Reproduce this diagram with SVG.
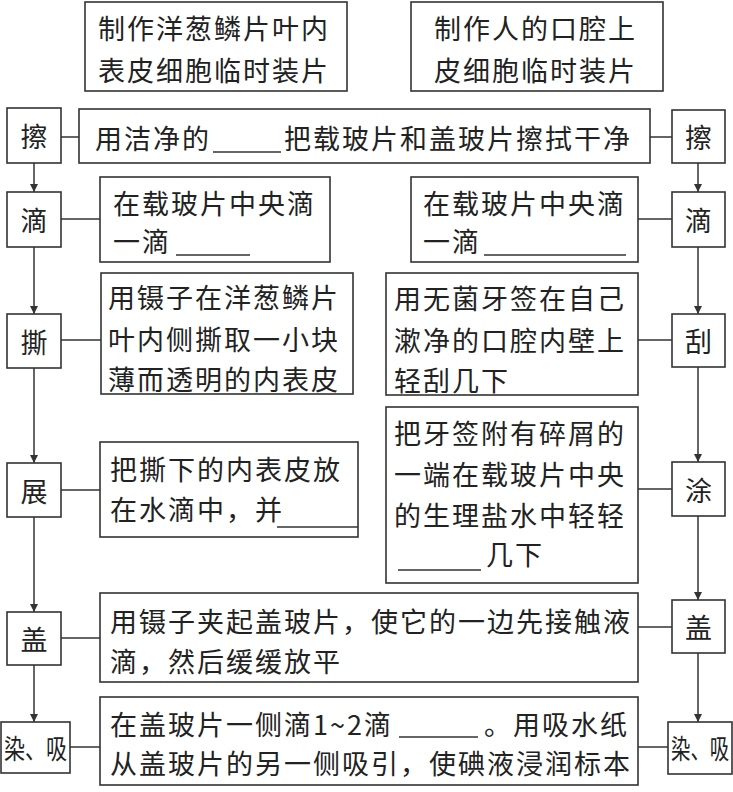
<svg xmlns="http://www.w3.org/2000/svg" width="733" height="792" viewBox="0 0 733 792">
<defs>
<marker id="ah" viewBox="0 0 8 10" refX="8" refY="5" markerWidth="8" markerHeight="10" markerUnits="userSpaceOnUse" orient="auto">
<path d="M0,1 L8,5 L0,9 Z" fill="#333"/>
</marker>
<style>
rect{fill:#fff;stroke:#333;stroke-width:1.6}
line{stroke:#333;stroke-width:1.5}
.a{marker-end:url(#ah)}
text{font-family:"Noto Sans CJK SC","Noto Sans",sans-serif;font-size:27px;fill:#222;dominant-baseline:central;letter-spacing:2px}
.c{text-anchor:middle;letter-spacing:0}
.u{stroke:#333;stroke-width:1.3}
</style>
</defs>
<rect width="733" height="792" style="fill:#fff;stroke:none"/>

<g id="connectors">
<line x1="61" y1="137" x2="79" y2="137"/>
<line x1="650" y1="137" x2="672" y2="137"/>
<line x1="61" y1="219" x2="100" y2="219"/>
<line x1="638" y1="219" x2="672" y2="219"/>
<line x1="61" y1="340" x2="101" y2="340"/>
<line x1="638" y1="340" x2="672" y2="340"/>
<line x1="61" y1="490" x2="100" y2="490"/>
<line x1="638" y1="489" x2="672" y2="489"/>
<line x1="61" y1="638" x2="100" y2="638"/>
<line x1="638" y1="627" x2="672" y2="627"/>
<line x1="70" y1="747" x2="100" y2="747"/>
<line x1="638" y1="747" x2="668" y2="747"/>
<line class="a" x1="34" y1="163" x2="34" y2="192"/>
<line class="a" x1="34" y1="247" x2="34" y2="314"/>
<line class="a" x1="34" y1="368" x2="34" y2="463"/>
<line class="a" x1="34" y1="517" x2="34" y2="612"/>
<line class="a" x1="34" y1="665" x2="34" y2="722"/>
<line class="a" x1="698" y1="163" x2="698" y2="192"/>
<line class="a" x1="698" y1="247" x2="698" y2="314"/>
<line class="a" x1="698" y1="367" x2="698" y2="462"/>
<line class="a" x1="698" y1="516" x2="698" y2="600"/>
<line class="a" x1="698" y1="653" x2="698" y2="722"/>
</g>

<g id="title-left">
<rect x="85" y="2" width="262" height="89"/>
<text x="98" y="27">制作洋葱鳞片叶内</text>
<text x="98" y="69">表皮细胞临时装片</text>
</g>
<g id="title-right">
<rect x="411" y="2" width="252" height="89"/>
<text x="434" y="27">制作人的口腔上</text>
<text x="434" y="69">皮细胞临时装片</text>
</g>

<g id="step-ca-left"><rect x="7" y="108" width="54" height="55"/><text class="c" x="34" y="135">擦</text></g>
<g id="step-ca-right"><rect x="672" y="110" width="53" height="53"/><text class="c" x="698.5" y="136">擦</text></g>
<g id="desc-ca">
<rect x="79" y="109" width="571" height="54"/>
<text x="95" y="137">用洁净的</text>
<line class="u" x1="213" y1="152" x2="281" y2="152"/>
<text x="284" y="137">把载玻片和盖玻片擦拭干净</text>
</g>

<g id="step-di-left"><rect x="7" y="192" width="54" height="55"/><text class="c" x="34" y="219">滴</text></g>
<g id="desc-di-left">
<rect x="100" y="177" width="230" height="85"/>
<text x="113" y="202">在载玻片中央滴</text>
<text x="113" y="240">一滴</text>
<line class="u" x1="176" y1="255" x2="250" y2="255"/>
</g>
<g id="step-di-right"><rect x="672" y="192" width="53" height="55"/><text class="c" x="698.5" y="219">滴</text></g>
<g id="desc-di-right">
<rect x="411" y="177" width="227" height="85"/>
<text x="423" y="202">在载玻片中央滴</text>
<text x="423" y="240">一滴</text>
<line class="u" x1="484" y1="255" x2="626" y2="255"/>
</g>

<g id="step-si"><rect x="7" y="314" width="54" height="54"/><text class="c" x="34" y="341">撕</text></g>
<g id="desc-si">
<rect x="101" y="273" width="252" height="121"/>
<text x="108" y="296">用镊子在洋葱鳞片</text>
<text x="108" y="338">叶内侧撕取一小块</text>
<text x="108" y="378">薄而透明的内表皮</text>
</g>
<g id="step-gua"><rect x="672" y="314" width="53" height="53"/><text class="c" x="698.5" y="340">刮</text></g>
<g id="desc-gua">
<rect x="386" y="273" width="252" height="122"/>
<text x="394" y="297">用无菌牙签在自己</text>
<text x="394" y="339">漱净的口腔内壁上</text>
<text x="394" y="379">轻刮几下</text>
</g>

<g id="step-zhan"><rect x="7" y="463" width="54" height="54"/><text class="c" x="34" y="490">展</text></g>
<g id="desc-zhan">
<rect x="100" y="442" width="258" height="95"/>
<text x="110" y="468">把撕下的内表皮放</text>
<text x="110" y="508">在水滴中，并</text>
<line class="u" x1="277" y1="527" x2="358" y2="527"/>
</g>
<g id="step-tu"><rect x="672" y="462" width="53" height="54"/><text class="c" x="698.5" y="489">涂</text></g>
<g id="desc-tu">
<rect x="386" y="407" width="252" height="176"/>
<text x="394" y="432">把牙签附有碎屑的</text>
<text x="394" y="473">一端在载玻片中央</text>
<text x="394" y="514">的生理盐水中轻轻</text>
<line class="u" x1="398" y1="570" x2="481" y2="570"/>
<text x="486" y="553">几下</text>
</g>

<g id="step-gai-left"><rect x="7" y="612" width="54" height="53"/><text class="c" x="34" y="638">盖</text></g>
<g id="step-gai-right"><rect x="672" y="600" width="53" height="53"/><text class="c" x="698.5" y="626">盖</text></g>
<g id="desc-gai">
<rect x="100" y="593" width="538" height="89"/>
<text x="110" y="620">用镊子夹起盖玻片，使它的一边先接触液</text>
<text x="110" y="660">滴，然后缓缓放平</text>
</g>

<g id="step-ran-left"><rect x="1" y="722" width="69" height="51"/><text transform="translate(4,747) scale(0.78,1)" x="0" y="0" style="letter-spacing:0">染、吸</text></g>
<g id="step-ran-right"><rect x="668" y="722" width="64" height="52"/><text transform="translate(671,748) scale(0.72,1)" x="0" y="0" style="letter-spacing:0">染、吸</text></g>
<g id="desc-ran">
<rect x="100" y="697" width="538" height="88"/>
<text x="110" y="723">在盖玻片一侧滴1~2滴</text>
<line class="u" x1="399" y1="737" x2="478" y2="737"/>
<text x="484" y="723">。用吸水纸</text>
<text x="110" y="762">从盖玻片的另一侧吸引，使碘液浸润标本</text>
</g>
</svg>
